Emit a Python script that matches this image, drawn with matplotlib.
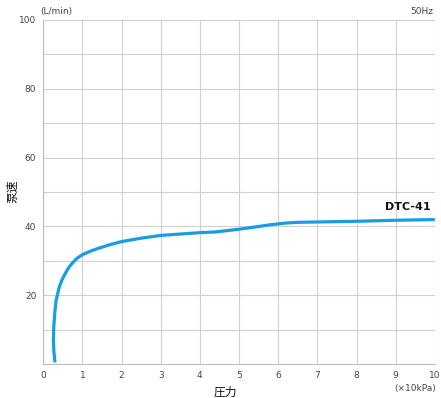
import matplotlib
matplotlib.use("Agg")
import matplotlib.pyplot as plt

plt.rcParams['font.family'] = ['DejaVu Sans', 'Noto Sans CJK JP']

# pump curve DTC-41, 50Hz
pressure = [0.30, 0.27, 0.26, 0.27, 0.30, 0.33, 0.41, 0.48, 0.56, 0.66, 0.77, 0.88,
	1.0, 1.2, 1.37, 1.7, 2.0, 2.5, 3.0, 3.5, 4.0, 4.4, 5.0, 5.5, 5.8, 6.2, 6.5,
	7.0, 8.0, 9.0, 10.0]
flow = [0.5, 4, 7, 11, 15.5, 18.6, 22.4, 24.5, 26.3, 28.2, 29.7, 30.9,
	31.8, 32.8, 33.5, 34.7, 35.6, 36.6, 37.4, 37.8, 38.2, 38.4, 39.2, 40.0, 40.5, 41.0, 41.2,
	41.3, 41.5, 41.8, 42.0]
x_ticks = list(range(0, 11))
y_ticks = [20, 40, 60, 80, 100]
model = "DTC-41"

fig = plt.figure(figsize=(4.41, 3.98), dpi=100)
ax = fig.add_axes([0.098, 0.085, 0.888, 0.865])

ax.set_xlim(0, 10)
ax.set_ylim(0, 100)
ax.set_xticks(x_ticks)
ax.set_yticks(y_ticks)
ax.set_yticks(range(10, 101, 10), minor=True)
ax.grid(True, which="both", color="#d0d0d0", linewidth=0.8)
ax.set_axisbelow(True)
ax.tick_params(length=0, labelsize=6.5, colors="#444444", pad=5)
ax.tick_params(which="minor", length=0)
for side in ("top", "right"):
	ax.spines[side].set_visible(False)
for side in ("left", "bottom"):
	ax.spines[side].set_color("#bbbbbb")
	ax.spines[side].set_linewidth(0.8)

ax.plot(pressure, flow, color="#179de2", linewidth=2.3, solid_capstyle="butt", clip_on=False)
ax.text(9.9, 44.2, model, ha="right", va="bottom", fontsize=8, fontweight="bold",
	color="#111111")

fig.text(0.127, 0.97, "(L/min)", ha="center", va="center", fontsize=6.5, color="#444444")
fig.text(0.983, 0.97, "50Hz", ha="right", va="center", fontsize=6.5, color="#444444")
fig.text(0.988, 0.025, "(×10kPa)", ha="right", va="center", fontsize=6.5, color="#444444")
fig.text(0.51, 0.015, "圧力", ha="center", va="center", fontsize=8.5, color="#111111",
	family=["Noto Sans CJK JP", "DejaVu Sans"])
fig.text(0.028, 0.52, "泵速", ha="center", va="center", rotation=90, fontsize=8.5,
	color="#111111", family=["Noto Sans CJK SC", "DejaVu Sans"])

fig.savefig("out.png", dpi=100)
